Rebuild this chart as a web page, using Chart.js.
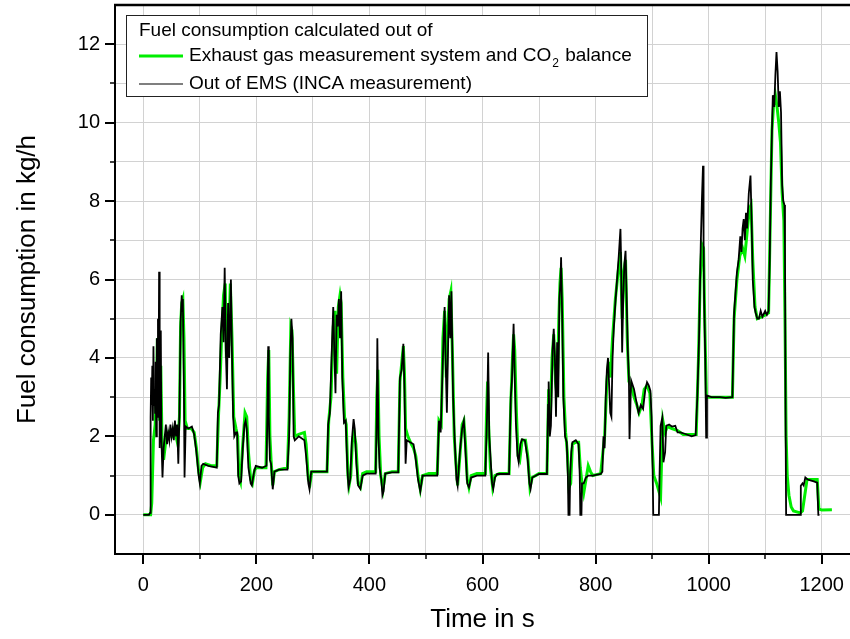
<!DOCTYPE html>
<html>
<head>
<meta charset="utf-8">
<script src="https://cdn.jsdelivr.net/npm/chart.js@4.4.0/dist/chart.umd.min.js"></script>
<style>
  html, body { margin: 0; padding: 0; background: #fff; }
  canvas { display: block; }
</style>
</head>
<body>
<canvas id="fuelChart" width="850" height="639"></canvas>
<script>
// Abgasmessanlage / CO2-Bilanz (green)
const greenTime = [0, 13, 15, 18, 21, 23, 25, 27, 29, 31, 33, 36, 40, 45, 50, 55, 58, 61, 64, 66, 68, 70, 72, 74, 78, 85, 90, 94, 98, 101, 105, 110, 120, 130, 133, 136, 139, 142, 145, 147, 149, 151, 154, 157, 160, 164, 167, 169, 172, 176, 180, 183, 186, 190, 193, 197, 200, 210, 217, 220, 222, 224, 226, 229, 232, 240, 255, 258, 261, 263, 266, 268, 275, 285, 288, 292, 295, 298, 310, 325, 328, 332, 336, 339, 342, 345, 348, 350, 353, 356, 359, 362, 364, 367, 370, 373, 376, 380, 384, 388, 395, 411, 413, 415, 417, 420, 424, 428, 440, 451, 454, 458, 460, 462, 464, 468, 474, 478, 482, 486, 490, 494, 505, 520, 523, 527, 530, 533, 536, 538, 541, 544, 547, 550, 553, 556, 560, 564, 567, 570, 573, 576, 580, 590, 605, 607, 609, 611, 614, 618, 622, 630, 647, 650, 653, 655, 657, 660, 663, 666, 670, 676, 680, 684, 688, 700, 714, 717, 720, 723, 726, 729, 732, 735, 737, 739, 741, 744, 747, 750, 753, 756, 759, 765, 770, 773, 776, 779, 783, 787, 791, 795, 809, 813, 816, 820, 823, 826, 830, 835, 840, 844, 847, 850, 853, 856, 859, 863, 868, 873, 877, 882, 886, 891, 896, 900, 903, 908, 912, 915, 917, 919, 923, 927, 935, 945, 955, 970, 978, 982, 985, 988, 991, 993, 996, 999, 1020, 1042, 1045, 1050, 1055, 1060, 1064, 1068, 1072, 1075, 1078, 1082, 1086, 1095, 1106, 1109, 1112, 1115, 1118, 1121, 1124, 1127, 1130, 1133, 1135, 1137, 1139, 1142, 1146, 1150, 1162, 1166, 1170, 1174, 1180, 1192, 1195, 1200, 1218];
const greenFuel = [0, 0, 0.3, 1.9, 2.3, 3.0, 4.5, 3.2, 2.4, 3.8, 2.0, 1.4, 1.9, 2.1, 2.0, 2.2, 2.0, 1.8, 2.5, 4.8, 5.4, 5.5, 4.5, 2.4, 2.2, 2.2, 2.1, 1.7, 1.1, 0.85, 1.2, 1.3, 1.25, 1.25, 2.5, 3.5, 4.7, 5.6, 5.9, 4.0, 4.8, 4.3, 5.9, 4.5, 2.5, 2.2, 2.0, 1.0, 0.85, 1.8, 2.6, 2.5, 1.6, 0.9, 0.8, 1.15, 1.2, 1.2, 1.2, 3.5, 4.2, 2.0, 1.4, 0.75, 1.1, 1.15, 1.2, 2.5, 4.8, 4.7, 3.0, 2.0, 2.05, 2.1, 1.8, 0.9, 0.8, 1.1, 1.1, 1.1, 2.4, 3.0, 4.8, 5.2, 3.6, 5.3, 5.6, 5.4, 3.5, 2.5, 2.3, 1.0, 0.75, 1.0, 1.9, 2.1, 1.8, 0.8, 0.7, 1.05, 1.1, 1.1, 3.0, 3.7, 2.0, 1.0, 0.65, 1.05, 1.1, 1.1, 3.4, 4.0, 4.3, 3.6, 2.2, 2.0, 1.8, 1.7, 1.5, 1.0, 0.65, 1.0, 1.05, 1.05, 2.4, 2.3, 4.5, 5.2, 3.5, 4.5, 5.5, 5.7, 4.0, 2.0, 1.3, 0.75, 1.5, 2.3, 2.4, 1.8, 0.9, 0.7, 1.0, 1.05, 1.05, 2.5, 3.4, 2.2, 1.2, 0.7, 1.0, 1.05, 1.05, 2.8, 4.0, 4.6, 4.2, 2.6, 1.5, 1.4, 1.9, 1.9, 1.5, 0.7, 0.95, 1.05, 1.05, 3.2, 2.5, 4.0, 4.6, 3.4, 3.0, 5.0, 5.9, 6.3, 5.5, 3.0, 2.1, 1.6, 0.7, 0.8, 1.8, 1.85, 1.85, 1.2, 0.8, 0.55, 0.9, 1.25, 1.1, 1.0, 1.05, 1.6, 2.0, 3.4, 3.9, 3.5, 4.5, 5.5, 6.2, 6.7, 5.0, 6.2, 6.5, 4.5, 3.4, 3.3, 3.0, 2.8, 2.6, 2.8, 3.2, 3.3, 3.1, 1.8, 1.0, 0.8, 0.6, 0.45, 1.5, 2.4, 2.1, 2.25, 2.2, 2.15, 2.05, 2.05, 2.05, 4.0, 6.0, 6.9, 6.8, 5.0, 3.0, 3.0, 3.0, 3.0, 5.0, 6.0, 6.6, 6.8, 6.6, 7.2, 7.8, 7.9, 6.5, 5.3, 5.0, 5.05, 5.15, 7.5, 9.8, 10.5, 10.7, 10.4, 10.0, 9.5, 8.2, 7.5, 5.0, 2.0, 1.0, 0.5, 0.2, 0.1, 0.05, 0.1, 0.5, 0.9, 0.9, 0.9, 0.15, 0.12, 0.13];

// Motorsteuergeraet / INCA (black)
const emsTime = [0, 10, 12, 13, 14, 15, 16, 17, 18, 19, 20, 21, 22, 23, 24, 25, 26, 27, 28, 29, 30, 31, 32, 34, 36, 38, 40, 42, 44, 46, 48, 50, 52, 54, 56, 58, 60, 62, 64, 66, 68, 69, 70, 72, 73, 75, 80, 86, 90, 94, 98, 100, 103, 106, 115, 130, 132, 134, 137, 140, 142, 144, 146, 148, 150, 152, 155, 157, 159, 161, 164, 166, 168, 170, 173, 176, 179, 181, 183, 186, 190, 192, 196, 199, 210, 218, 220, 221, 222, 224, 226, 229, 232, 240, 255, 258, 260, 262, 264, 266, 268, 275, 285, 288, 292, 294, 297, 310, 325, 327, 330, 333, 336, 338, 340, 342, 344, 346, 348, 350, 352, 355, 358, 361, 363, 366, 369, 372, 374, 377, 380, 384, 388, 395, 411, 413, 414, 416, 418, 421, 423, 425, 428, 440, 451, 454, 457, 460, 462, 464, 466, 472, 478, 482, 486, 490, 494, 505, 520, 523, 526, 530, 533, 535, 537, 539, 541, 543, 545, 548, 551, 554, 556, 560, 564, 567, 570, 573, 576, 580, 590, 605, 608, 610, 612, 614, 617, 619, 622, 626, 640, 647, 650, 652, 655, 657, 659, 662, 664, 667, 670, 675, 680, 683, 685, 688, 700, 714, 716, 717, 719, 721, 724, 726, 728, 730, 732, 734, 736, 738, 739, 741, 743, 746, 749, 751, 752, 754, 755, 757, 759, 765, 770, 772, 773, 775, 776, 779, 783, 787, 795, 809, 812, 814, 816, 818, 820, 822, 824, 826, 828, 830, 832, 835, 838, 841, 844, 845, 847, 849, 851, 853, 855, 857, 859, 860, 862, 863, 868, 872, 876, 880, 884, 888, 891, 894, 897, 899, 901, 902, 912, 913, 915, 918, 920, 923, 925, 930, 935, 941, 945, 950, 959, 970, 977, 980, 983, 986, 988, 990, 991, 992, 994, 995.6, 997, 1005, 1020, 1030, 1042, 1045, 1050, 1053, 1056, 1058, 1060, 1062, 1064, 1066, 1068, 1071, 1074, 1076, 1078, 1081, 1083, 1086, 1089, 1092, 1095, 1100, 1103, 1106, 1108, 1110, 1112, 1113.5, 1116, 1118, 1120, 1122, 1124, 1126, 1128, 1130, 1132, 1134, 1135, 1136, 1137, 1162, 1163, 1166, 1168, 1171, 1175, 1180, 1186, 1192, 1194, 1196];
const emsFuel = [0, 0, 0.05, 2.5, 3.5, 2.8, 3.8, 2.4, 4.3, 2.8, 3.2, 2.6, 3.9, 2.0, 4.5, 2.5, 5.0, 3.0, 6.2, 1.7, 3.5, 4.7, 2.0, 0.95, 1.7, 2.0, 2.3, 1.8, 2.1, 1.9, 2.3, 2.0, 2.2, 1.9, 2.4, 2.0, 2.3, 1.3, 2.6, 4.9, 5.6, 5.2, 5.5, 3.0, 0.95, 2.25, 2.2, 2.25, 2.05, 1.6, 1.0, 0.8, 1.25, 1.3, 1.25, 1.2, 2.6, 2.8, 4.6, 5.3, 4.4, 6.3, 4.2, 3.2, 5.4, 4.0, 6.0, 4.0, 2.5, 2.0, 2.1, 2.1, 1.0, 0.8, 0.85, 1.7, 2.3, 2.4, 2.2, 1.2, 0.8, 0.75, 1.1, 1.25, 1.2, 1.25, 3.0, 4.3, 2.5, 1.4, 1.3, 0.65, 1.1, 1.15, 1.15, 2.0, 4.0, 5.0, 4.5, 2.0, 1.9, 2.0, 1.9, 1.5, 0.8, 0.65, 1.1, 1.1, 1.1, 2.3, 2.6, 4.0, 5.3, 4.1, 3.1, 5.1, 4.8, 5.5, 4.5, 5.7, 3.5, 2.35, 2.4, 1.2, 0.7, 0.9, 1.9, 2.44, 2.2, 1.3, 0.75, 0.66, 1.0, 1.05, 1.05, 2.5, 4.5, 2.0, 1.2, 0.9, 0.5, 0.6, 1.05, 1.08, 1.08, 3.5, 3.7, 4.36, 3.2, 1.3, 1.9, 1.85, 1.8, 1.4, 0.9, 0.6, 1.0, 1.0, 1.0, 2.4, 2.1, 4.0, 5.3, 3.8, 2.6, 4.2, 5.6, 4.5, 5.7, 3.0, 1.85, 0.9, 0.74, 1.6, 2.2, 2.4, 1.6, 0.8, 0.7, 0.95, 1.0, 1.0, 2.5, 4.14, 2.0, 1.5, 0.8, 0.66, 0.95, 1.04, 1.04, 1.04, 3.0, 3.4, 4.87, 3.5, 2.36, 1.5, 1.34, 1.8, 1.93, 1.9, 1.4, 0.8, 0.66, 0.95, 1.04, 1.04, 2.8, 3.4, 2.0, 2.27, 4.2, 4.74, 4.0, 2.5, 4.4, 3.0, 5.5, 6.0, 6.57, 5.0, 3.0, 2.0, 1.85, 1.0, 0, 0, 1.0, 1.6, 1.85, 1.9, 1.8, 1.0, 0, 0, 0.8, 0.8, 0.95, 1.0, 1.0, 1.04, 1.1, 2.0, 1.7, 3.0, 3.7, 4.0, 3.3, 2.6, 2.5, 4.0, 4.7, 5.4, 6.0, 6.6, 7.29, 6.6, 4.14, 5.6, 6.4, 6.73, 5.5, 4.2, 3.46, 1.93, 3.0, 3.42, 3.2, 2.9, 2.6, 2.8, 2.7, 3.2, 3.38, 3.3, 3.16, 2.5, 1.1, 0, 0, 0.9, 2.27, 2.48, 1.34, 1.6, 2.27, 2.3, 2.25, 2.27, 2.1, 2.1, 2.06, 2.0, 2.03, 3.0, 4.5, 6.86, 8.0, 8.9, 7.0, 5.5, 4.0, 1.97, 3.04, 3.0, 3.0, 2.98, 3.0, 5.16, 6.18, 6.5, 7.1, 6.7, 7.3, 7.54, 7.0, 7.7, 7.3, 8.2, 8.65, 7.5, 6.0, 5.3, 5.16, 5.0, 5.0, 5.2, 5.05, 5.2, 5.1, 5.2, 6.5, 8.5, 9.8, 10.7, 10.4, 11.2, 11.8, 11.3, 10.4, 10.8, 10.26, 8.4, 8.0, 7.9, 6.86, 2.6, 0, 0, 0.74, 0.8, 0.75, 0.95, 0.9, 0.88, 0.85, 0.82, 0, 0];

const xTicks = [0, 100, 200, 300, 400, 500, 600, 700, 800, 900, 1000, 1100, 1200];
const yTicks = [0, 1, 2, 3, 4, 5, 6, 7, 8, 9, 10, 11, 12];

const legendTitle = 'Fuel consumption calculated out of';
const greenLabel = 'Exhaust gas measurement system and CO\u2082 balance';
const emsLabel = 'Out of EMS (INCA measurement)';

const FONT = "'Liberation Sans', Arial, sans-serif";

function toPoints(xs, ys) {
  return xs.map((x, i) => ({ x: x, y: ys[i] }));
}

// tick marks (major long / minor short) + top frame
const frameTicks = {
  id: 'frameTicks',
  afterDraw(chart) {
    const { ctx, chartArea } = chart;
    const xs = chart.scales.x, ys = chart.scales.y;
    ctx.save();
    ctx.strokeStyle = '#000';
    xTicks.forEach(v => {
      const px = Math.round(xs.getPixelForValue(v));
      const major = v % 200 === 0;
      ctx.lineWidth = major ? 2 : 1.5;
      ctx.beginPath();
      ctx.moveTo(px, chartArea.bottom);
      ctx.lineTo(px, chartArea.bottom + (major ? 10 : 5));
      ctx.stroke();
    });
    yTicks.forEach(v => {
      const py = Math.round(ys.getPixelForValue(v));
      const major = v % 2 === 0;
      ctx.lineWidth = major ? 2 : 1.5;
      ctx.beginPath();
      ctx.moveTo(chartArea.left, py);
      ctx.lineTo(chartArea.left - (major ? 10 : 5), py);
      ctx.stroke();
    });
    ctx.lineWidth = 2.5;
    ctx.beginPath();
    ctx.moveTo(chartArea.left - 1, chartArea.top);
    ctx.lineTo(chartArea.right, chartArea.top);
    ctx.stroke();
    ctx.restore();
  }
};

// legend box with CO2 subscript
const boxLegend = {
  id: 'boxLegend',
  afterDraw(chart) {
    const ctx = chart.ctx;
    const sets = chart.data.datasets;
    const bx = 126.5, by = 15.5, bw = 521, bh = 81;
    ctx.save();
    ctx.fillStyle = '#fff';
    ctx.fillRect(bx, by, bw, bh);
    ctx.strokeStyle = '#222';
    ctx.lineWidth = 1;
    ctx.strokeRect(bx, by, bw, bh);
    ctx.font = '19px ' + FONT;
    ctx.fillStyle = '#000';
    ctx.textBaseline = 'middle';
    ctx.fillText(legendTitle, 139, 31);
    const rows = [56, 84];
    sets.forEach((ds, i) => {
      const y = rows[i];
      ctx.strokeStyle = ds.borderColor;
      ctx.lineWidth = i === 0 ? 3 : 1.2;
      ctx.beginPath();
      ctx.moveTo(139, y);
      ctx.lineTo(183, y);
      ctx.stroke();
      ctx.fillStyle = '#000';
      const parts = ds.label.split('\u2082');
      let x = 189;
      ctx.font = '19px ' + FONT;
      ctx.fillText(parts[0], x, y);
      if (parts.length > 1) {
        x += ctx.measureText(parts[0]).width + 1;
        ctx.font = '12px ' + FONT;
        ctx.fillText('2', x, y + 8);
        x += ctx.measureText('2').width + 1;
        ctx.font = '19px ' + FONT;
        ctx.fillText(parts[1], x, y);
      }
    });
    ctx.restore();
  }
};

const ctx = document.getElementById('fuelChart').getContext('2d');
new Chart(ctx, {
  type: 'line',
  data: {
    datasets: [{
      label: greenLabel,
      data: toPoints(greenTime, greenFuel),
      borderColor: '#00ee00',
      borderWidth: 3,
      pointRadius: 0,
      tension: 0,
      order: 2
    }, {
      label: emsLabel,
      data: toPoints(emsTime, emsFuel),
      borderColor: '#000000',
      borderWidth: 1.8,
      pointRadius: 0,
      tension: 0,
      order: 1
    }]
  },
  options: {
    responsive: false,
    animation: false,
    events: [],
    layout: { padding: { top: 5, right: 0, left: 0, bottom: 0 } },
    plugins: { legend: { display: false }, tooltip: { enabled: false } },
    scales: {
      x: {
        type: 'linear',
        min: -50,
        max: 1250,
        afterBuildTicks: s => { s.ticks = xTicks.map(v => ({ value: v })); },
        afterFit: s => { s.height = 85; s.paddingLeft = 0; s.paddingRight = 0; },
        grid: { color: '#d2d2d2', lineWidth: 1, drawTicks: false },
        border: { color: '#000', width: 2 },
        ticks: {
          padding: 19,
          maxRotation: 0,
          autoSkip: false,
          color: '#000',
          font: { family: FONT, size: 20 },
          callback: v => (v % 200 === 0 ? String(v) : '')
        },
        title: {
          display: true,
          text: 'Time in s',
          color: '#000',
          font: { family: FONT, size: 26 },
          padding: { top: 0, bottom: 4 }
        }
      },
      y: {
        type: 'linear',
        min: -1,
        max: 13,
        afterBuildTicks: s => { s.ticks = yTicks.map(v => ({ value: v })); },
        afterFit: s => { s.width = 115; s.paddingTop = 0; s.paddingBottom = 0; },
        grid: { color: '#d2d2d2', lineWidth: 1, drawTicks: false },
        border: { color: '#000', width: 2 },
        ticks: {
          padding: 15,
          autoSkip: false,
          color: '#000',
          font: { family: FONT, size: 20 },
          callback: v => (v % 2 === 0 ? String(v) : '')
        },
        title: {
          display: true,
          text: 'Fuel consumption in kg/h',
          color: '#000',
          font: { family: FONT, size: 26 },
          padding: { top: 12, bottom: 0 }
        }
      }
    }
  },
  plugins: [frameTicks, boxLegend]
});
</script>
</body>
</html>
